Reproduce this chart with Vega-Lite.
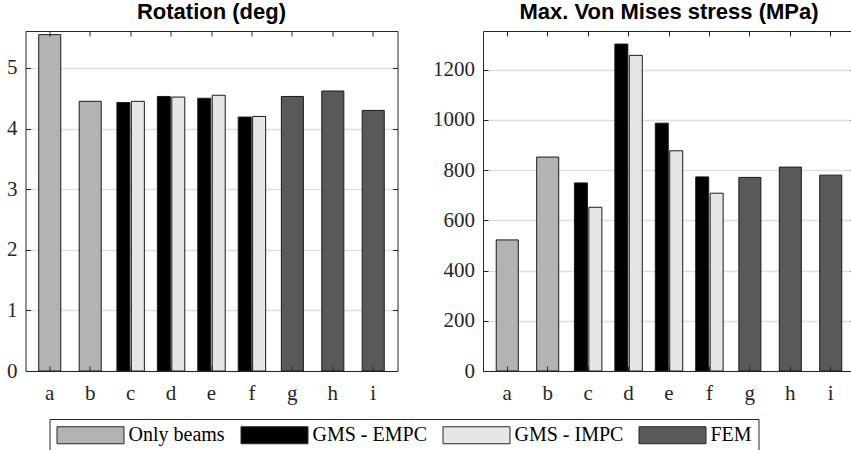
{
  "$schema": "https://vega.github.io/schema/vega-lite/v6.json",
  "padding": {"left": 6.5, "top": 0, "right": 5, "bottom": 5},
  "datasets": {
    "d": [
      {"panel": "rot", "cat": "a", "series": "Only beams", "value": 5.55},
      {"panel": "rot", "cat": "b", "series": "Only beams", "value": 4.45},
      {"panel": "rot", "cat": "c", "series": "GMS - EMPC", "value": 4.43},
      {"panel": "rot", "cat": "c", "series": "GMS - IMPC", "value": 4.45},
      {"panel": "rot", "cat": "d", "series": "GMS - EMPC", "value": 4.53},
      {"panel": "rot", "cat": "d", "series": "GMS - IMPC", "value": 4.52},
      {"panel": "rot", "cat": "e", "series": "GMS - EMPC", "value": 4.50},
      {"panel": "rot", "cat": "e", "series": "GMS - IMPC", "value": 4.55},
      {"panel": "rot", "cat": "f", "series": "GMS - EMPC", "value": 4.19},
      {"panel": "rot", "cat": "f", "series": "GMS - IMPC", "value": 4.20},
      {"panel": "rot", "cat": "g", "series": "FEM", "value": 4.53},
      {"panel": "rot", "cat": "h", "series": "FEM", "value": 4.62},
      {"panel": "rot", "cat": "i", "series": "FEM", "value": 4.30},
      {"panel": "vm", "cat": "a", "series": "Only beams", "value": 522},
      {"panel": "vm", "cat": "b", "series": "Only beams", "value": 852},
      {"panel": "vm", "cat": "c", "series": "GMS - EMPC", "value": 749},
      {"panel": "vm", "cat": "c", "series": "GMS - IMPC", "value": 652},
      {"panel": "vm", "cat": "d", "series": "GMS - EMPC", "value": 1302},
      {"panel": "vm", "cat": "d", "series": "GMS - IMPC", "value": 1257},
      {"panel": "vm", "cat": "e", "series": "GMS - EMPC", "value": 987},
      {"panel": "vm", "cat": "e", "series": "GMS - IMPC", "value": 877},
      {"panel": "vm", "cat": "f", "series": "GMS - EMPC", "value": 773},
      {"panel": "vm", "cat": "f", "series": "GMS - IMPC", "value": 708},
      {"panel": "vm", "cat": "g", "series": "FEM", "value": 771},
      {"panel": "vm", "cat": "h", "series": "FEM", "value": 812},
      {"panel": "vm", "cat": "i", "series": "FEM", "value": 780}
    ]
  },
  "data": {"name": "d"},
  "spacing": 33.5,
  "hconcat": [
    {
      "width": 372,
      "height": 340,
      "title": {"text": "Rotation (deg)"},
      "transform": [{"filter": "datum.panel === 'rot'"}],
      "layer": [
        {
          "transform": [{"filter": "datum.series === 'Only beams' || datum.series === 'FEM'"}],
          "mark": {"type": "bar", "width": {"band": 0.545}, "stroke": "#1a1a1a", "strokeWidth": 1},
          "encoding": {
            "x": {"field": "cat", "type": "nominal", "title": null, "scale": {"domain": ["a","b","c","d","e","f","g","h","i"], "paddingInner": 0, "paddingOuter": 0.1},
                  "axis": {"orient": "bottom", "zindex": 1, "grid": false, "labelPadding": 16}},
            "y": {"field": "value", "type": "quantitative", "title": null, "scale": {"domain": [0, 5.61], "nice": false, "zero": true},
                  "axis": {"orient": "left", "values": [0,1,2,3,4,5], "zindex": 1, "grid": false, "format": "d"}},
            "color": {"field": "series", "type": "nominal", "title": null,
                      "scale": {"domain": ["Only beams", "GMS - EMPC", "GMS - IMPC", "FEM"], "range": ["#b3b3b3", "#000000", "#e6e6e6", "#595959"]}}
          }
        },
        {
          "transform": [{"filter": "datum.series === 'GMS - EMPC' || datum.series === 'GMS - IMPC'"}],
          "mark": {"type": "bar", "stroke": "#1a1a1a", "strokeWidth": 1},
          "encoding": {
            "x": {"field": "cat", "type": "nominal", "title": null, "scale": {"domain": ["a","b","c","d","e","f","g","h","i"], "paddingInner": 0, "paddingOuter": 0.1},
                  "axis": {"orient": "top", "labels": false, "zindex": 1, "grid": false}},
            "xOffset": {"field": "series", "type": "nominal", "scale": {"domain": ["GMS - EMPC", "GMS - IMPC"], "paddingInner": 0.1, "paddingOuter": 0.45}},
            "y": {"field": "value", "type": "quantitative", "title": null, "scale": {"domain": [0, 5.61], "nice": false, "zero": true},
                  "axis": {"orient": "right", "values": [0,1,2,3,4,5], "labels": false, "zindex": 0, "grid": true}},
            "color": {"field": "series", "type": "nominal", "title": null,
                      "scale": {"domain": ["Only beams", "GMS - EMPC", "GMS - IMPC", "FEM"], "range": ["#b3b3b3", "#000000", "#e6e6e6", "#595959"]}}
          }
        }
      ],
      "resolve": {"axis": {"x": "independent", "y": "independent"}}
    },
    {
      "width": 372,
      "height": 340,
      "title": {"text": "Max. Von Mises stress (MPa)"},
      "transform": [{"filter": "datum.panel === 'vm'"}],
      "layer": [
        {
          "transform": [{"filter": "datum.series === 'Only beams' || datum.series === 'FEM'"}],
          "mark": {"type": "bar", "width": {"band": 0.545}, "stroke": "#1a1a1a", "strokeWidth": 1},
          "encoding": {
            "x": {"field": "cat", "type": "nominal", "title": null, "scale": {"domain": ["a","b","c","d","e","f","g","h","i"], "paddingInner": 0, "paddingOuter": 0.1},
                  "axis": {"orient": "bottom", "zindex": 1, "grid": false, "labelPadding": 16}},
            "y": {"field": "value", "type": "quantitative", "title": null, "scale": {"domain": [0, 1354], "nice": false, "zero": true},
                  "axis": {"orient": "left", "values": [0,200,400,600,800,1000,1200], "zindex": 1, "grid": false, "format": "d"}},
            "color": {"field": "series", "type": "nominal", "title": null,
                      "scale": {"domain": ["Only beams", "GMS - EMPC", "GMS - IMPC", "FEM"], "range": ["#b3b3b3", "#000000", "#e6e6e6", "#595959"]}}
          }
        },
        {
          "transform": [{"filter": "datum.series === 'GMS - EMPC' || datum.series === 'GMS - IMPC'"}],
          "mark": {"type": "bar", "stroke": "#1a1a1a", "strokeWidth": 1},
          "encoding": {
            "x": {"field": "cat", "type": "nominal", "title": null, "scale": {"domain": ["a","b","c","d","e","f","g","h","i"], "paddingInner": 0, "paddingOuter": 0.1},
                  "axis": {"orient": "top", "labels": false, "zindex": 1, "grid": false}},
            "xOffset": {"field": "series", "type": "nominal", "scale": {"domain": ["GMS - EMPC", "GMS - IMPC"], "paddingInner": 0.1, "paddingOuter": 0.45}},
            "y": {"field": "value", "type": "quantitative", "title": null, "scale": {"domain": [0, 1354], "nice": false, "zero": true},
                  "axis": {"orient": "right", "values": [0,200,400,600,800,1000,1200], "labels": false, "zindex": 0, "grid": true}},
            "color": {"field": "series", "type": "nominal", "title": null,
                      "scale": {"domain": ["Only beams", "GMS - EMPC", "GMS - IMPC", "FEM"], "range": ["#b3b3b3", "#000000", "#e6e6e6", "#595959"]}}
          }
        }
      ],
      "resolve": {"axis": {"x": "independent", "y": "independent"}}
    }
  ],
  "config": {
    "view": {"stroke": null},
    "title": {"font": "Liberation Sans", "fontSize": 22, "fontWeight": "bold", "color": "#000000", "anchor": "middle", "baseline": "alphabetic", "offset": 7},
    "axis": {
      "domainColor": "#262626", "domainWidth": 1,
      "tickColor": "#262626", "tickWidth": 1, "tickSize": -5,
      "labelFont": "Liberation Serif", "labelFontSize": 21, "labelColor": "#262626",
      "labelPadding": 13.5, "labelAngle": 0,
      "gridColor": "#dfdfdf", "gridWidth": 1.5
    },
    "legend": {
      "orient": "none", "legendX": 24, "legendY": 388,
      "direction": "horizontal",
      "symbolType": "M-1,-1H6.88V1H-1Z", "symbolSize": 289,
      "symbolStrokeColor": "#262626", "symbolStrokeWidth": 1, "symbolOpacity": 1,
      "labelFont": "Liberation Serif", "labelFontSize": 20, "labelColor": "#000000",
      "labelOffset": 53, "columnPadding": 13,
      "strokeColor": "#262626", "fillColor": "#ffffff", "padding": 6
    }
  }
}
